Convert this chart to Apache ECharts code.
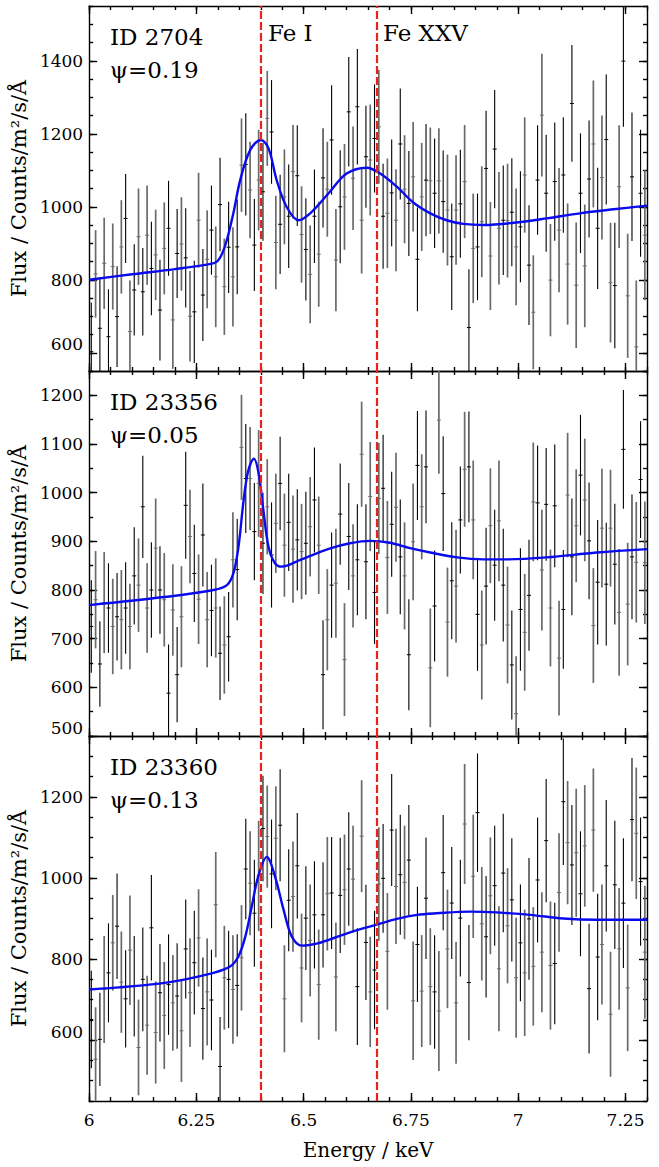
<!DOCTYPE html>
<html><head><meta charset="utf-8">
<script src="https://cdn.jsdelivr.net/npm/echarts@6.0.0/dist/echarts.min.js"></script>
<style>html,body{margin:0;padding:0;background:#fff}#c{width:659px;height:1167px}</style>
</head><body><div id="c"></div>
<script>
// ---- data ----
const ENERGY = [
6.005,6.015,6.025,6.035,6.045,6.055,6.065,6.075,6.085,6.095,
6.105,6.115,6.125,6.135,6.145,6.155,6.165,6.175,6.185,6.195,
6.205,6.215,6.225,6.235,6.245,6.255,6.265,6.275,6.285,6.295,
6.305,6.315,6.325,6.335,6.345,6.355,6.365,6.375,6.385,6.395,
6.405,6.415,6.425,6.435,6.445,6.455,6.465,6.475,6.485,6.495,
6.505,6.515,6.525,6.535,6.545,6.555,6.565,6.575,6.585,6.595,
6.605,6.615,6.625,6.635,6.645,6.655,6.665,6.675,6.685,6.695,
6.705,6.715,6.725,6.735,6.745,6.755,6.765,6.775,6.785,6.795,
6.805,6.815,6.825,6.835,6.845,6.855,6.865,6.875,6.885,6.895,
6.905,6.915,6.925,6.935,6.945,6.955,6.965,6.975,6.985,6.995,
7.005,7.015,7.025,7.035,7.045,7.055,7.065,7.075,7.085,7.095,
7.105,7.115,7.125,7.135,7.145,7.155,7.165,7.175,7.185,7.195,
7.205,7.215,7.225,7.235,7.245,7.255,7.265,7.275,7.285,7.295];

const FLUX_2704 = [603,816,667,845,644,836,699,890,968,658,772,918,767,922,831,868,717,886,941,690,872,
898,860,700,712,963,758,856,936,808,1006,781,889,808,890,1114,1116,1046,895,1073,1041,1242,1205,902,
952,1027,974,1096,1085,924,883,815,974,870,1079,1048,
1183,854,1000,1027,1260,1078,1274,963,1137,1128,1187,1219,974,982,1038,963,1172,1048,1009,1082,856,1027,1073,1071,1037,1071,1014,991,863,991,1008,1069,669,886,890,959,1105,865,1158,941,963,962,985,890,945,1087,840,711,1073,1251,1037,799,1069,936,1087,843,1283,785,1037,838,1076,1172,941,1080,1184,792,784,1055,1399,756,1082,616,1037,922];
const ERR_2704 = [135,120,140,125,130,118,138,128,122,140,125,132,120,136,128,124,138,126,130,134,122,
128,136,124,140,130,126,134,122,138,128,132,125,136,130,128,140,132,126,138,134,130,142,128,
136,130,142,128,138,132,140,134,128,144,136,130,
150,140,155,145,150,142,158,146,140,152,148,156,144,150,146,140,152,148,144,150,142,148,154,146,150,144,140,152,146,150,148,155,160,150,146,152,158,148,162,154,150,156,148,160,152,158,164,156,150,168,160,154,162,170,158,166,160,172,164,168,160,174,166,170,178,164,172,168,180,170,176,182,174,178];

const FLUX_23356 = [725,780,648,774,763,725,745,739,763,725,829,810,971,763,800,886,800,780,588,759,626,745,974,910,834,781,913,739,758,763,670,687,704,862,842,1093,
1029,1029,920,1019,896,971,872,937,1019,892,939,884,903,879,896,930,985,892,626,739,
810,814,956,657,910,829,862,1079,858,992,795,988,1009,867,935,970,868,829,667,899,1056,971,1053,640,767,1149,998,734,819,808,944,1048,1053,944,750,687,808,932,851,942,810,728,646,546,760,713,789,981,979,841,976,763,973,660,760,995,868,932,1036,985,901,727,816,927,812,927,853,754,1089,771,868,857,1027,856];
const ERR_23356 = [95,100,88,104,92,98,90,102,94,88,100,96,105,92,98,102,90,96,100,94,98,104,110,96,100,92,106,98,94,102,96,100,92,98,104,108,112,106,100,110,104,98,108,102,96,106,100,110,104,98,106,102,108,100,112,104,
108,112,104,116,110,106,114,108,118,112,106,114,110,116,108,112,118,110,114,120,112,108,116,122,114,110,118,112,120,116,110,118,114,122,116,112,120,118,114,124,116,120,112,118,126,120,114,122,118,124,116,120,126,118,122,128,120,116,124,126,120,118,128,122,126,120,124,130,122,126,128,124,120,126];

const FLUX_23360 = [651,553,602,725,766,840,881,743,702,822,733,582,750,637,877,619,717,661,737,692,709,623,825,717,791,852,678,719,699,934,535,754,750,725,735,803,1022,987,913,1005,1122,
1102,1010,1098,1130,702,945,954,1030,778,901,846,909,737,909,961,
963,756,957,971,1022,997,732,1103,841,719,773,985,999,819,1118,979,1008,989,1044,697,836,721,950,732,719,672,1013,825,938,692,901,1133,742,1004,1161,887,855,956,981,776,1012,882,946,754,840,766,899,782,995,817,1092,784,789,964,1188,1087,1032,1062,961,1079,727,1118,805,836,1030,664,983,825,938,729,1144,1110,991,817];
const ERR_23360 = [120,128,115,132,122,118,130,125,120,135,124,118,128,122,130,126,120,132,124,118,130,126,122,134,128,120,126,132,124,130,122,128,120,134,126,130,124,128,132,136,130,126,134,128,138,132,126,136,130,134,128,138,132,136,130,140,
138,134,142,136,140,132,144,138,142,136,146,140,134,144,138,142,148,140,136,146,142,138,150,144,140,148,142,146,138,150,144,148,142,152,146,140,150,144,148,154,146,142,152,148,144,156,150,146,154,148,152,158,150,146,156,152,148,158,154,150,160,152,156,148,162,154,158,150,160,156,152,162,158,164];

// model curves
const MODEL_E_2704 = [6.0,6.1,6.2,6.289,6.30,6.31,6.321,6.336,6.352,6.375,6.40,6.418,6.437,6.46,6.488,6.515,6.558,6.6,6.647,6.678,6.717,6.756,6.795,6.833,6.872,6.919,6.989,7.066,7.144,7.222,7.3];
const MODEL_F_2704 = [800,815,829,845,852,872,909,982,1073,1155,1183,1160,1073,1000,963,982,1037,1091,1107,1091,1055,1011,982,963,953,950,956,968,982,993,1003];
const MODEL_E_23356 = [6.0,6.18,6.29,6.321,6.336,6.348,6.36,6.371,6.384,6.395,6.406,6.418,6.433,6.449,6.492,6.56,6.608,6.655,6.701,6.748,6.795,6.857,6.919,6.973,7.066,7.183,7.3];
const MODEL_F_23356 = [769,786,800,810,834,889,985,1046,1070,1039,964,889,855,848,862,885,896,901,897,886,877,867,863,863,867,877,884];
const MODEL_E_23360 = [6.0,6.18,6.29,6.329,6.348,6.364,6.379,6.394,6.414,6.433,6.453,6.472,6.496,6.53,6.56,6.608,6.67,6.717,6.764,6.81,6.888,6.95,7.028,7.105,7.183,7.3];
const MODEL_F_23360 = [725,742,766,782,807,856,930,1004,1052,1004,922,856,833,838,848,866,885,899,909,913,917,915,909,900,897,897];

const LINE_ENERGIES = [6.4, 6.67];
const LINE_LABELS = ['Fe I', 'Fe XXV'];
const PANEL_IDS = ['ID 2704', 'ID 23356', 'ID 23360'];
const PANEL_PHASES = ['\u03C8=0.19', '\u03C8=0.05', '\u03C8=0.13'];
const X_TICKS = [6, 6.25, 6.5, 6.75, 7, 7.25];
const Y_RANGE = [[550, 1550], [500, 1250], [450, 1350]];
const Y_TICKS = [[600, 800, 1000, 1200, 1400], [500, 600, 700, 800, 900, 1000, 1100, 1200], [600, 800, 1000, 1200]];
const X_LABEL = 'Energy / keV';
const Y_LABEL = 'Flux / Counts/m\u00B2/s/\u00C5';

const FLUX = [FLUX_2704, FLUX_23356, FLUX_23360];
const ERRS = [ERR_2704, ERR_23356, ERR_23360];
const MODEL_E = [MODEL_E_2704, MODEL_E_23356, MODEL_E_23360];
const MODEL_F = [MODEL_F_2704, MODEL_F_23356, MODEL_F_23360];

// ---- layout / style ----
const FONT = '"DejaVu Serif", "Liberation Serif", serif';
const PANEL_TOP = [6, 371, 736];
const PANEL_H = 365, LEFT = 89, WIDTH = 558;
const AX = {color: '#000', width: 1.4};
const plain = v => String(v);

const grids = [], xAxes = [], yAxes = [], series = [], graphics = [];

for (let g = 0; g < 3; g++) {
  grids.push({left: LEFT, width: WIDTH, top: PANEL_TOP[g], height: PANEL_H});
  const last = g === 2;
  const xc = {type: 'value', gridIndex: g, min: 6, max: 7.3, splitLine: {show: false}};
  xAxes.push(Object.assign({}, xc, {position: 'bottom', interval: 0.05,
    axisLine: {show: true, onZero: false, lineStyle: AX},
    axisTick: {inside: true, length: 4, lineStyle: AX}, axisLabel: {show: false}}));
  xAxes.push(Object.assign({}, xc, {position: 'bottom',
    axisLine: {show: false, onZero: false},
    axisTick: {inside: true, length: 8, customValues: X_TICKS, lineStyle: AX},
    axisLabel: {show: last, customValues: X_TICKS, formatter: plain, margin: 10, fontFamily: FONT, fontSize: 17, color: '#000'},
    name: last ? X_LABEL : '', nameLocation: 'middle', nameGap: 39,
    nameTextStyle: {fontFamily: FONT, fontSize: 20, color: '#000'}}));
  xAxes.push(Object.assign({}, xc, {position: 'top', interval: 0.05,
    axisLine: {show: true, onZero: false, lineStyle: AX},
    axisTick: {inside: true, length: 4, lineStyle: AX}, axisLabel: {show: false}}));
  xAxes.push(Object.assign({}, xc, {position: 'top',
    axisLine: {show: false, onZero: false},
    axisTick: {inside: true, length: 8, customValues: X_TICKS, lineStyle: AX}, axisLabel: {show: false}}));

  const yc = {type: 'value', gridIndex: g, min: Y_RANGE[g][0], max: Y_RANGE[g][1], splitLine: {show: false}};
  yAxes.push(Object.assign({}, yc, {position: 'left', interval: 50,
    axisLine: {show: true, onZero: false, lineStyle: AX},
    axisTick: {inside: true, length: 4, lineStyle: AX}, axisLabel: {show: false}}));
  yAxes.push(Object.assign({}, yc, {position: 'left',
    axisLine: {show: false, onZero: false},
    axisTick: {inside: true, length: 8, customValues: Y_TICKS[g], lineStyle: AX},
    axisLabel: {customValues: Y_TICKS[g], formatter: plain, margin: 6, fontFamily: FONT, fontSize: 17, color: '#000',
      verticalAlignMinLabel: 'bottom'},
    name: Y_LABEL, nameLocation: 'middle', nameGap: 46, nameRotate: 90,
    nameTextStyle: {fontFamily: FONT, fontSize: 21, color: '#000'}}));
  yAxes.push(Object.assign({}, yc, {position: 'right', interval: 50,
    axisLine: {show: true, onZero: false, lineStyle: AX},
    axisTick: {inside: true, length: 4, lineStyle: AX}, axisLabel: {show: false}}));
  yAxes.push(Object.assign({}, yc, {position: 'right',
    axisLine: {show: false, onZero: false},
    axisTick: {inside: true, length: 8, customValues: Y_TICKS[g], lineStyle: AX}, axisLabel: {show: false}}));

  const xi = 4 * g + 1, yi = 4 * g + 1;
  const data = ENERGY.map((e, i) => [e, FLUX[g][i], ERRS[g][i], i % 2]);
  series.push({
    type: 'custom', xAxisIndex: xi, yAxisIndex: yi, clip: true, z: 2,
    encode: {x: 0, y: 1},
    data: data,
    renderItem: function (params, api) {
      const x = api.value(0), v = api.value(1), e = api.value(2), gray = api.value(3) === 1;
      const t = api.coord([x, v + e]), b = api.coord([x, v - e]), m = api.coord([x, v]);
      const col = gray ? '#6a6a6a' : '#000000';
      return {type: 'group', children: [
        {type: 'line', shape: {x1: t[0], y1: t[1], x2: b[0], y2: b[1]}, style: {stroke: col, lineWidth: gray ? 1.7 : 1.1}},
        {type: 'line', shape: {x1: m[0] - 2, y1: m[1], x2: m[0] + 2, y2: m[1]}, style: {stroke: col, lineWidth: 1}}
      ]};
    }
  });
  series.push({
    type: 'line', xAxisIndex: xi, yAxisIndex: yi, z: 3,
    data: MODEL_E[g].map((e, i) => [e, MODEL_F[g][i]]),
    smooth: 0.35, showSymbol: false, symbol: 'none', silent: true,
    lineStyle: {color: '#0a0aee', width: 2.4},
    markLine: {symbol: 'none', silent: true, label: {show: false}, z: 5,
      lineStyle: {color: '#e8231f', width: 2.2, type: [8, 3]},
      data: LINE_ENERGIES.map(e => ({xAxis: e}))}
  });

  graphics.push({type: 'text', left: 110, top: PANEL_TOP[g] + 19, style: {text: PANEL_IDS[g], font: '23px ' + FONT, fill: '#000'}});
  graphics.push({type: 'text', left: 110, top: PANEL_TOP[g] + 52, style: {text: PANEL_PHASES[g], font: '23px ' + FONT, fill: '#000'}});
}
graphics.push({type: 'text', left: 268, top: 21, style: {text: LINE_LABELS[0], font: '23px ' + FONT, fill: '#000'}});
graphics.push({type: 'text', left: 383, top: 21, style: {text: LINE_LABELS[1], font: '23px ' + FONT, fill: '#000'}});

const chart = echarts.init(document.getElementById('c'), null, {renderer: 'svg'});
chart.setOption({
  backgroundColor: '#fff',
  animation: false,
  grid: grids, xAxis: xAxes, yAxis: yAxes, series: series, graphic: graphics
});
</script></body></html>
